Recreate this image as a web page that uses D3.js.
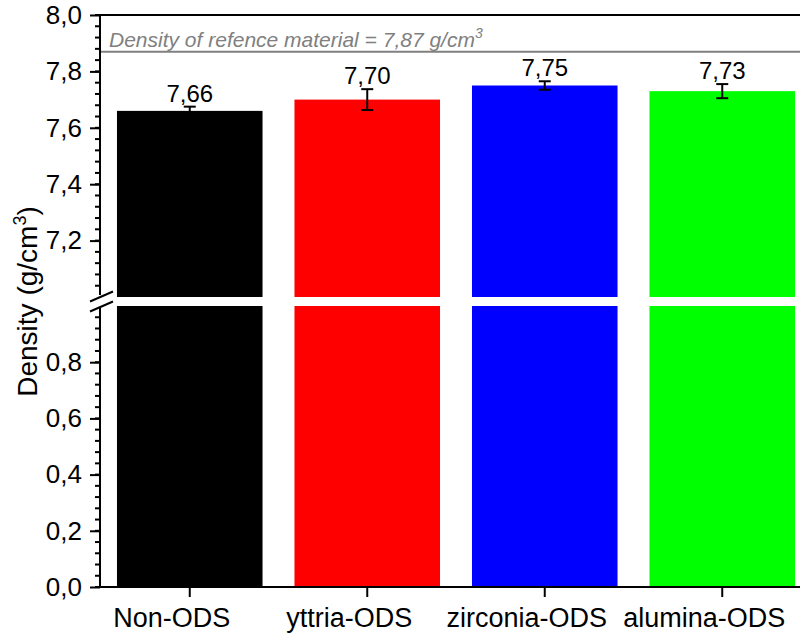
<!DOCTYPE html>
<html>
<head>
<meta charset="utf-8">
<script src="https://cdn.jsdelivr.net/npm/d3@7/dist/d3.min.js"></script>
<style>
  html, body { margin: 0; padding: 0; background: #fff; }
  svg { display: block; font-family: "Liberation Sans", Arial, sans-serif; }
</style>
</head>
<body>
<div id="chart"></div>
<script>
// Data
const samples = ['Non-ODS', 'yttria-ODS', 'zirconia-ODS', 'alumina-ODS'];
const densities = [7.66, 7.70, 7.75, 7.73];
const errors = [0.015, 0.037, 0.015, 0.025];
const barColors = ['#000000', '#ff0000', '#0000ff', '#00ff00'];
const refDensity = 7.87;
const upperTicks = [7.2, 7.4, 7.6, 7.8, 8.0];
const lowerTicks = [0.0, 0.2, 0.4, 0.6, 0.8];

const width = 800, height = 634;
const fmt = v => d3.format('.2f')(v).replace('.', ',');
const fmt1 = v => d3.format('.1f')(v).replace('.', ',');

const svg = d3.select('#chart').append('svg')
  .attr('width', width)
  .attr('height', height);

// Scales - broken y axis: lower segment 0..1, upper segment 7..8
const x = d3.scaleBand()
  .domain(samples)
  .range([101, 811])
  .paddingInner(0.18)
  .paddingOuter(0.09);

const yUp = d3.scaleLinear().domain([7.0, 8.0]).range([297, 15]);
const yLow = d3.scaleLinear().domain([0.0, 1.0]).range([587, 306]);

const axisX = 100;
const rightX = 800;

// Bars (two pieces each)
const bars = samples.map((s, i) => ({ s, v: densities[i], e: errors[i], c: barColors[i] }));

svg.selectAll('.bar-up')
  .data(bars)
  .enter()
  .append('rect')
  .attr('x', d => x(d.s))
  .attr('y', d => yUp(d.v))
  .attr('width', x.bandwidth())
  .attr('height', d => yUp(7.0) - yUp(d.v))
  .attr('fill', d => d.c);

svg.selectAll('.bar-low')
  .data(bars)
  .enter()
  .append('rect')
  .attr('x', d => x(d.s))
  .attr('y', yLow(1.0))
  .attr('width', x.bandwidth())
  .attr('height', yLow(0) - yLow(1.0))
  .attr('fill', d => d.c);

// Error bars
const cap = 6;
bars.forEach(d => {
  const cx = x(d.s) + x.bandwidth() / 2;
  const g = svg.append('g').attr('stroke', '#000').attr('stroke-width', 2);
  g.append('line').attr('x1', cx).attr('x2', cx)
    .attr('y1', yUp(d.v + d.e)).attr('y2', yUp(d.v - d.e));
  g.append('line').attr('x1', cx - cap).attr('x2', cx + cap)
    .attr('y1', yUp(d.v + d.e)).attr('y2', yUp(d.v + d.e));
  g.append('line').attr('x1', cx - cap).attr('x2', cx + cap)
    .attr('y1', yUp(d.v - d.e)).attr('y2', yUp(d.v - d.e));

  svg.append('text')
    .attr('x', cx)
    .attr('y', yUp(d.v + d.e) - 5)
    .attr('text-anchor', 'middle')
    .attr('font-size', '24px')
    .attr('fill', '#000')
    .text(fmt(d.v));
});

// Reference line
svg.append('line')
  .attr('x1', axisX).attr('x2', rightX)
  .attr('y1', yUp(refDensity)).attr('y2', yUp(refDensity))
  .attr('stroke', '#808080')
  .attr('stroke-width', 2);

const ref = svg.append('text')
  .attr('x', 109)
  .attr('y', yUp(refDensity) - 5)
  .attr('font-size', '21px')
  .attr('font-style', 'italic')
  .attr('fill', '#808080');
ref.append('tspan').text('Density of refence material = ' + fmt(refDensity) + ' g/cm');
ref.append('tspan').attr('font-size', '14px').attr('dy', '-9').text('3');

// Top frame line
svg.append('line')
  .attr('x1', axisX).attr('x2', rightX)
  .attr('y1', yUp(8.0)).attr('y2', yUp(8.0))
  .attr('stroke', '#000').attr('stroke-width', 2);

// Left axis - major ticks
const upperMinor = d3.range(7.04, 8.0001, 0.04);
const lowerMinor = d3.range(0.0, 0.9601, 0.04);

const yAxisUp = svg.append('g')
  .attr('transform', `translate(${axisX},0)`)
  .call(d3.axisLeft(yUp).tickValues(upperTicks).tickSize(10).tickPadding(8).tickFormat(fmt1));
yAxisUp.select('.domain').remove();

const yAxisLow = svg.append('g')
  .attr('transform', `translate(${axisX},0)`)
  .call(d3.axisLeft(yLow).tickValues(lowerTicks).tickSize(10).tickPadding(8).tickFormat(fmt1));
yAxisLow.select('.domain').remove();

[yAxisUp, yAxisLow].forEach(ax => {
  ax.selectAll('text')
    .attr('font-size', '26px')
    .attr('fill', '#000')
    .attr('font-family', '"Liberation Sans", Arial, sans-serif');
  ax.selectAll('line').attr('stroke', '#000').attr('stroke-width', 2);
});

// Minor ticks
svg.selectAll('.minor-up')
  .data(upperMinor)
  .enter()
  .append('line')
  .attr('x1', axisX - 5).attr('x2', axisX)
  .attr('y1', d => yUp(d)).attr('y2', d => yUp(d))
  .attr('stroke', '#000').attr('stroke-width', 2);

svg.selectAll('.minor-low')
  .data(lowerMinor)
  .enter()
  .append('line')
  .attr('x1', axisX - 5).attr('x2', axisX)
  .attr('y1', d => yLow(d)).attr('y2', d => yLow(d))
  .attr('stroke', '#000').attr('stroke-width', 2);

// Axis lines
svg.append('line')
  .attr('x1', axisX).attr('x2', axisX)
  .attr('y1', yUp(8.0) - 1).attr('y2', yUp(7.0) - 2)
  .attr('stroke', '#000').attr('stroke-width', 2);
svg.append('line')
  .attr('x1', axisX).attr('x2', axisX)
  .attr('y1', yLow(1.0) + 2).attr('y2', yLow(0) + 1)
  .attr('stroke', '#000').attr('stroke-width', 2);

// Break marks
const gapMid = (yUp(7.0) + yLow(1.0)) / 2;
[-5, 5].forEach(off => {
  svg.append('line')
    .attr('x1', axisX - 10).attr('y1', gapMid + off + 5)
    .attr('x2', axisX + 13).attr('y2', gapMid + off - 5)
    .attr('stroke', '#000').attr('stroke-width', 2);
});

// Bottom axis
svg.append('line')
  .attr('x1', axisX - 1).attr('x2', rightX)
  .attr('y1', yLow(0)).attr('y2', yLow(0))
  .attr('stroke', '#000').attr('stroke-width', 2);

const xAxis = svg.append('g')
  .attr('transform', `translate(0,${yLow(0)})`)
  .call(d3.axisBottom(x).tickSize(10).tickPadding(11));
xAxis.select('.domain').remove();
xAxis.selectAll('line').attr('stroke', '#000').attr('stroke-width', 2);
// labels sit a little left of their ticks in the original
xAxis.selectAll('text')
  .attr('x', -18)
  .attr('font-size', '27px')
  .attr('fill', '#000')
  .attr('font-family', '"Liberation Sans", Arial, sans-serif');

// Y axis title
const yTitle = svg.append('text')
  .attr('transform', `translate(37,${gapMid}) rotate(-90)`)
  .attr('text-anchor', 'middle')
  .attr('font-size', '28px')
  .attr('fill', '#000');
yTitle.append('tspan').text('Density (g/cm');
yTitle.append('tspan').attr('font-size', '18px').attr('dy', '-11').text('3');
yTitle.append('tspan').attr('dy', '11').text(')');
</script>
</body>
</html>
